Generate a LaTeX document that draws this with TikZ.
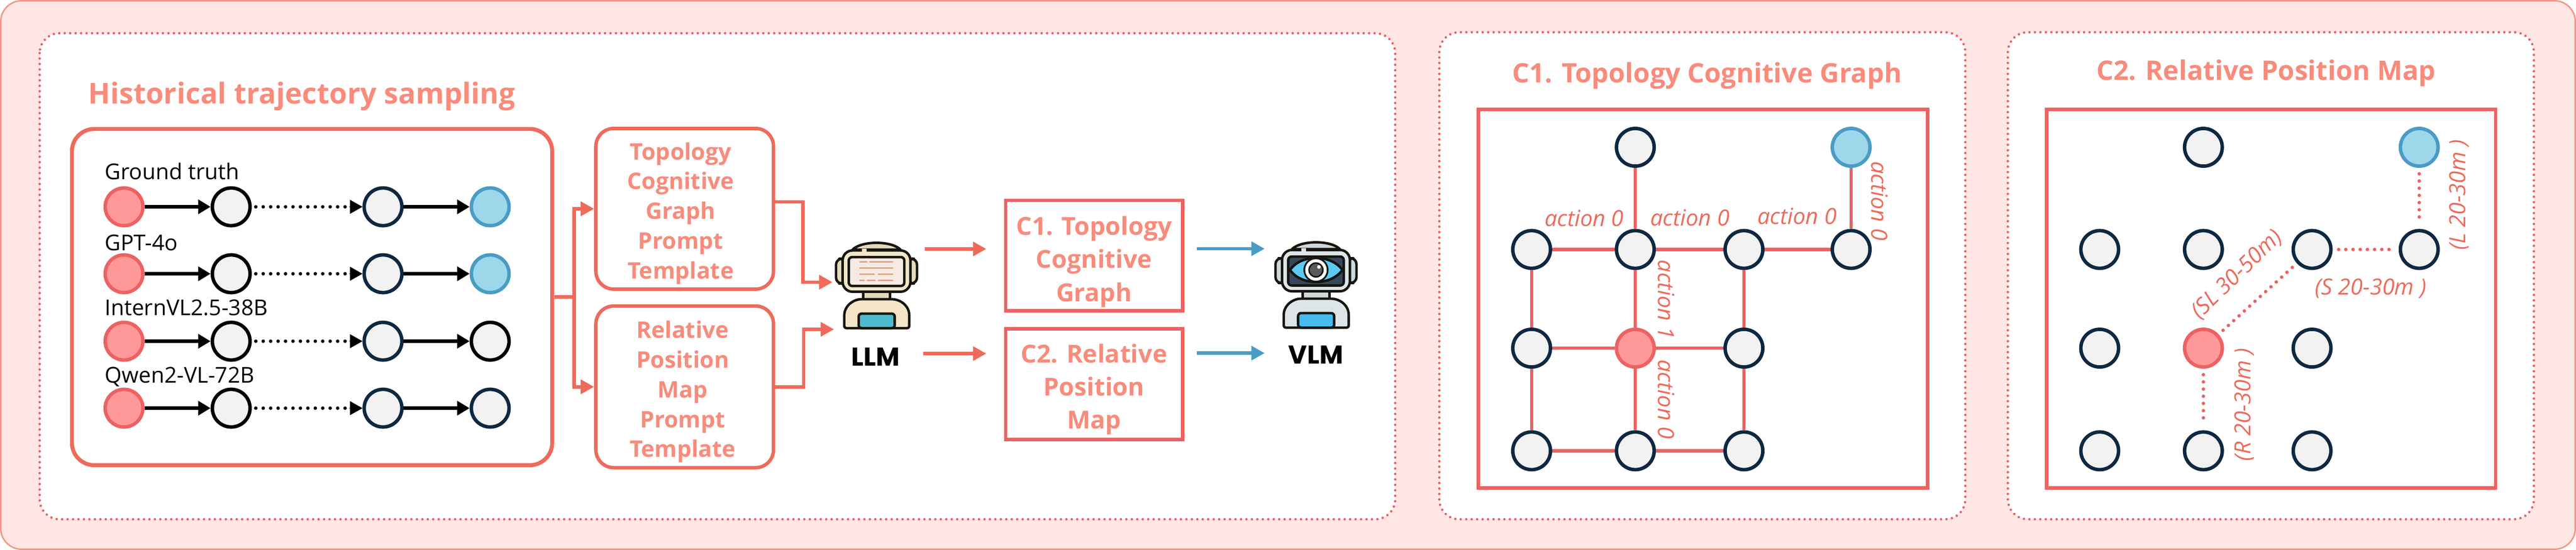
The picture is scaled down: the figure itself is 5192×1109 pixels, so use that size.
\documentclass[tikz,border=0pt]{standalone}
\usepackage{fontspec}
\setmainfont{Open Sans}
\newfontfamily\llmfont{Poppins}
\usetikzlibrary{arrows.meta}
\definecolor{bgfill}{HTML}{FDE6E4}
\definecolor{bgline}{HTML}{F4978A}
\definecolor{coral}{HTML}{EE6B5B}
\definecolor{rosered}{HTML}{EC6262}
\definecolor{salmon}{HTML}{F98B7B}
\definecolor{redfill}{HTML}{FF9999}
\definecolor{grayfill}{HTML}{F2F2F2}
\definecolor{navy}{HTML}{0E2841}
\definecolor{bluefill}{HTML}{9DD7EA}
\definecolor{blueline}{HTML}{4A9CC4}
\definecolor{robotink}{HTML}{17150F}
\definecolor{robottext}{HTML}{E0A688}
\definecolor{eyeblue}{HTML}{5BCBF3}
\definecolor{pupil}{HTML}{5A5A5A}
\tikzset{
  panel/.style={draw=rosered,fill=white,line width=5pt,line cap=round,dash pattern=on 0pt off 11pt,rounded corners=40pt},
  dot/.style={circle,draw,line width=7pt,minimum size=76pt,inner sep=0pt,outer sep=3.5pt},
  startdot/.style={dot,draw=rosered,fill=redfill},
  graydot/.style={dot,draw=navy,fill=grayfill},
  blackdot/.style={dot,draw=black,fill=grayfill},
  goaldot/.style={dot,draw=blueline,fill=bluefill},
  blackarrow/.style={draw=black,line width=7pt,-{Triangle[length=25pt,width=28pt]}},
  dotarrow/.style={draw=black,line width=7pt,line cap=round,dash pattern=on 0pt off 15pt},
  coralarrow/.style={draw=coral,line width=7pt,-{Triangle[length=27pt,width=28pt]}},
  bluearrow/.style={draw=blueline,line width=7pt,-{Triangle[length=27pt,width=28pt]}},
  graphedge/.style={draw=rosered,line width=6.5pt},
  mapedge/.style={draw=rosered,line width=7pt,line cap=round,dash pattern=on 0pt off 14.5pt,shorten >=12pt,shorten <=12pt},
  titletext/.style={text=salmon,font=\fontsize{54}{60}\selectfont\bfseries,anchor=base west,inner sep=0pt},
  modeltext/.style={text=black,font=\fontsize{44}{50}\selectfont,anchor=base west,inner sep=0pt},
  prompttext/.style={text=salmon,font=\fontsize{46}{60}\selectfont\bfseries,align=center,inner sep=0pt},
  cardtext/.style={text=salmon,font=\fontsize{50}{66.5}\selectfont\bfseries,align=center,inner sep=0pt},
  promptbox/.style={draw=coral,fill=white,line width=7pt,rounded corners=36pt,inner sep=0pt,minimum width=358pt},
  cardbox/.style={draw=rosered,fill=white,line width=7pt,inner sep=0pt,minimum width=357pt,minimum height=223pt},
  edgetext/.style={text=coral,font=\fontsize{45}{50}\selectfont\itshape,inner sep=0pt},
  frame/.style={draw=rosered,fill=white,line width=7pt,inner sep=0pt,minimum width=905pt,minimum height=763pt},
  botlabel/.style={text=black,font=\llmfont\fontsize{52}{56}\selectfont\bfseries,inner sep=0pt},
}
% robot drawn in coordinates read from a 3x crop
\newcommand{\drawrobot}[3]{%
 \begin{scope}[shift={(#1,#2)},x=0.3333pt,y=-0.3333pt,line width=5pt,draw=robotink,line join=round]
  \draw[fill=robotsoft] (235,130) .. controls (290,75) and (470,75) .. (525,130) -- cycle;
  \draw[fill=robotsoft,rounded corners=12pt] (135,185) rectangle (190,335);
  \draw[fill=robotsoft,rounded corners=12pt] (570,185) rectangle (625,335);
  \draw[fill=robotsoft] (300,380) rectangle (462,430);
  \draw[fill=robotbody,rounded corners=20pt] (175,135) rectangle (585,385);
  \fill[robotbody] (292,124) rectangle (320,147);
  \draw[fill=robotbody,rounded corners=4pt] (185,605) -- (185,540) .. controls (185,470) and (240,430) .. (300,430) -- (460,430) .. controls (525,430) and (578,470) .. (578,540) -- (578,605) -- cycle;
  \draw[fill=robotblue,rounded corners=6pt] (272,605) -- (272,517) -- (490,517) -- (490,605) -- cycle;
  \draw[fill=robotscreen,rounded corners=7pt] (212,175) rectangle (548,350);
  #3
 \end{scope}}
\begin{document}
\begin{tikzpicture}[x=1pt,y=-1pt]
\useasboundingbox (0,0) rectangle (5192,1109);
\draw[draw=bgline,fill=bgfill,line width=3pt,rounded corners=42pt] (1.5,1.5) rectangle (5190.5,1107.5);
\draw[panel] (80,67) rectangle (2812,1047);
\draw[panel] (2901,65) rectangle (3961,1047);
\draw[panel] (4047,65) rectangle (5107,1047);

% Historical trajectory sampling
\node[titletext,font=\fontsize{58}{60}\selectfont\bfseries] (histtitle) at (178,209) {Historical trajectory sampling};
\node[draw=coral,fill=white,line width=8pt,rounded corners=45pt,minimum width=968pt,minimum height=678pt,inner sep=0pt] (traj) at (629,599) {};
\node[modeltext] (lab1) at (211,362) {Ground truth};
\node[modeltext] (lab2) at (211,505) {GPT-4o};
\node[modeltext] (lab3) at (211,636) {InternVL2.5-38B};
\node[modeltext] (lab4) at (211,772) {Qwen2-VL-72B};

\node[startdot] (a1) at (250,417) {};
\node[blackdot] (b1) at (466,417) {};
\node[graydot]  (c1) at (772,417) {};
\node[goaldot]  (d1) at (988,417) {};
\node[startdot] (a2) at (250,552) {};
\node[blackdot] (b2) at (466,552) {};
\node[graydot]  (c2) at (772,552) {};
\node[goaldot]  (d2) at (988,552) {};
\node[startdot] (a3) at (250,688) {};
\node[blackdot] (b3) at (466,688) {};
\node[graydot]  (c3) at (772,688) {};
\node[blackdot] (d3) at (988,688) {};
\node[startdot] (a4) at (250,823) {};
\node[blackdot] (b4) at (466,823) {};
\node[graydot]  (c4) at (772,823) {};
\node[graydot]  (d4) at (988,823) {};
\foreach \r in {1,2,3,4}{
  \draw[blackarrow] (a\r) -- (b\r);
  \draw[dotarrow,shorten <=8pt,shorten >=32pt] (b\r) -- (c\r);
  \draw[black,-{Triangle[length=25pt,width=28pt]},line width=1pt] ([xshift=-26pt]c\r.west) -- (c\r.west);
  \draw[blackarrow] (c\r) -- (d\r);
}

% prompt boxes
\node[promptbox,minimum height=324pt] (p1) at (1380,421) {};
\node[promptbox,minimum height=326pt] (p2) at (1380,780) {};
\node[prompttext] (p1t) at (1372,430) {Topology\\Cognitive\\Graph\\Prompt\\Template};
\node[prompttext] (p2t) at (1376,790) {Relative\\Position\\Map\\Prompt\\Template};
\coordinate (bus) at (1157,599);
\draw[coralarrow] (traj.east) -- (bus) |- (p1.west);
\draw[coralarrow] (traj.east) -- (bus) |- (p2.west);
\coordinate (p1out) at (1559,407);
\coordinate (p2out) at (1559,780);
\coordinate (llmin1) at (1678,569);
\coordinate (llmin2) at (1681,664);
\draw[coralarrow] (p1out) -| (1618,569) -- (llmin1);
\draw[coralarrow] (p2out) -| (1620,664) -- (llmin2);

% robots
\definecolor{robotsoft}{HTML}{E3D9BD}
\definecolor{robotbody}{HTML}{F3E5C6}
\definecolor{robotblue}{HTML}{4DBACD}
\definecolor{robotscreen}{HTML}{F8E9E2}
\drawrobot{1640}{460}{%
  \draw[draw=robottext,line width=3.3pt,line cap=round]
    (280,205) -- (322,205) (340,205) -- (477,205)
    (280,242) -- (477,242)
    (280,280) -- (365,280) (392,280) -- (477,280)
    (280,317) -- (305,317) (325,317) -- (370,317) (392,317) -- (477,317);
}
\definecolor{robotsoft}{HTML}{CFD8DC}
\definecolor{robotbody}{HTML}{DDE5E8}
\definecolor{robotblue}{HTML}{47BBEE}
\definecolor{robotscreen}{HTML}{36495C}
\drawrobot{2525.7}{459}{%
  \draw[fill=eyeblue] (223,256) .. controls (290,159) and (470,159) .. (540,256) .. controls (470,353) and (290,353) .. cycle;
  \fill[robotink] (380,256) circle (76);
  \fill[white] (380,256) circle (65);
  \draw[fill=pupil,line width=3pt] (380,256) circle (42);
  \fill[white] (398,238) circle (11);
}
\node[botlabel] (llm) at (1765,719) {LLM};
\node[botlabel] (vlm) at (2652,715) {VLM};

% C1 and C2 cards
\node[cardbox] (card1) at (2205.5,515.5) {};
\node[cardbox] (card2) at (2205.5,774.5) {};
\node[cardtext] (card1t) at (2205,528) {C1. Topology\\Cognitive\\Graph};
\node[cardtext] (card2t) at (2205,785) {C2. Relative\\Position\\Map};
\coordinate (llmout1) at (1864,502);
\coordinate (llmout2) at (1861,713);
\coordinate (vlmin1) at (2549,501.5);
\coordinate (vlmin2) at (2549,712);
\coordinate (cardin1) at (1988,502);
\coordinate (cardin2) at (1988,713);
\coordinate (cardout1) at (2412,501.5);
\coordinate (cardout2) at (2412,712);
\draw[coralarrow] (llmout1) -- (cardin1);
\draw[coralarrow] (llmout2) -- (cardin2);
\draw[bluearrow] (cardout1) -- (vlmin1);
\draw[bluearrow] (cardout2) -- (vlmin2);

% C1 panel
\node[titletext] (c1title) at (3048,167) {C1. Topology Cognitive Graph};
\node[frame] (frameA) at (3432.5,602.5) {};
\node[graydot] (t1) at (3296,297) {};
\node[goaldot] (t2) at (3731,297) {};
\node[graydot] (u1) at (3087,503) {};
\node[graydot] (u2) at (3296,503) {};
\node[graydot] (u3) at (3515,503) {};
\node[graydot] (u4) at (3731,503) {};
\node[graydot] (v1) at (3087,702) {};
\node[startdot] (v2) at (3296,702) {};
\node[graydot] (v3) at (3515,702) {};
\node[graydot] (w1) at (3087,909) {};
\node[graydot] (w2) at (3296,909) {};
\node[graydot] (w3) at (3515,909) {};
\draw[graphedge] (t1) -- (u2);
\draw[graphedge] (t2) -- (u4);
\draw[graphedge] (u1) -- (u2);
\draw[graphedge] (u2) -- (u3);
\draw[graphedge] (u3) -- (u4);
\draw[graphedge] (v1) -- (v2);
\draw[graphedge] (v2) -- (v3);
\draw[graphedge] (w1) -- (w2);
\draw[graphedge] (w2) -- (w3);
\draw[graphedge] (u1) -- (v1);
\draw[graphedge] (v1) -- (w1);
\draw[graphedge] (u2) -- (v2);
\draw[graphedge] (v2) -- (w2);
\draw[graphedge] (u3) -- (v3);
\draw[graphedge] (v3) -- (w3);
\node[edgetext,anchor=base] (e1) at (3193,456) {action 0};
\node[edgetext,anchor=base] (e2) at (3406,455) {action 0};
\node[edgetext,anchor=base] (e3) at (3622,452) {action 0};
\node[edgetext,rotate=-90] (e4) at (3788,405) {action 0};
\node[edgetext,rotate=-90] (e5) at (3358,604) {action 1};
\node[edgetext,rotate=-90] (e6) at (3358,805) {action 0};

% C2 panel
\node[titletext] (c2title) at (4225,161) {C2. Relative Position Map};
\node[frame] (frameB) at (4577.5,602.5) {};
\node[graydot] (q1) at (4441,297) {};
\node[goaldot] (q2) at (4876,297) {};
\node[graydot] (r1) at (4232,503) {};
\node[graydot] (r2) at (4441,503) {};
\node[graydot] (r3) at (4660,503) {};
\node[graydot] (r4) at (4876,503) {};
\node[graydot] (s1) at (4232,702) {};
\node[startdot] (s2) at (4441,702) {};
\node[graydot] (s3) at (4660,702) {};
\node[graydot] (z1) at (4232,909) {};
\node[graydot] (z2) at (4441,909) {};
\node[graydot] (z3) at (4660,909) {};
\draw[mapedge] (q2) -- (r4);
\draw[mapedge] (r3) -- (r4);
\draw[mapedge] (s2) -- (r3);
\draw[mapedge] (s2) -- (z2);
\node[edgetext,rotate=90] (m1) at (4956,393) {(L 20-30m )};
\node[edgetext,anchor=base] (m2) at (4778,594) {(S 20-30m )};
\node[edgetext,rotate=44] (m3) at (4509,554) {(SL 30-50m)};
\node[edgetext,rotate=90] (m4) at (4523,816) {(R 20-30m )};
\end{tikzpicture}
\end{document}
